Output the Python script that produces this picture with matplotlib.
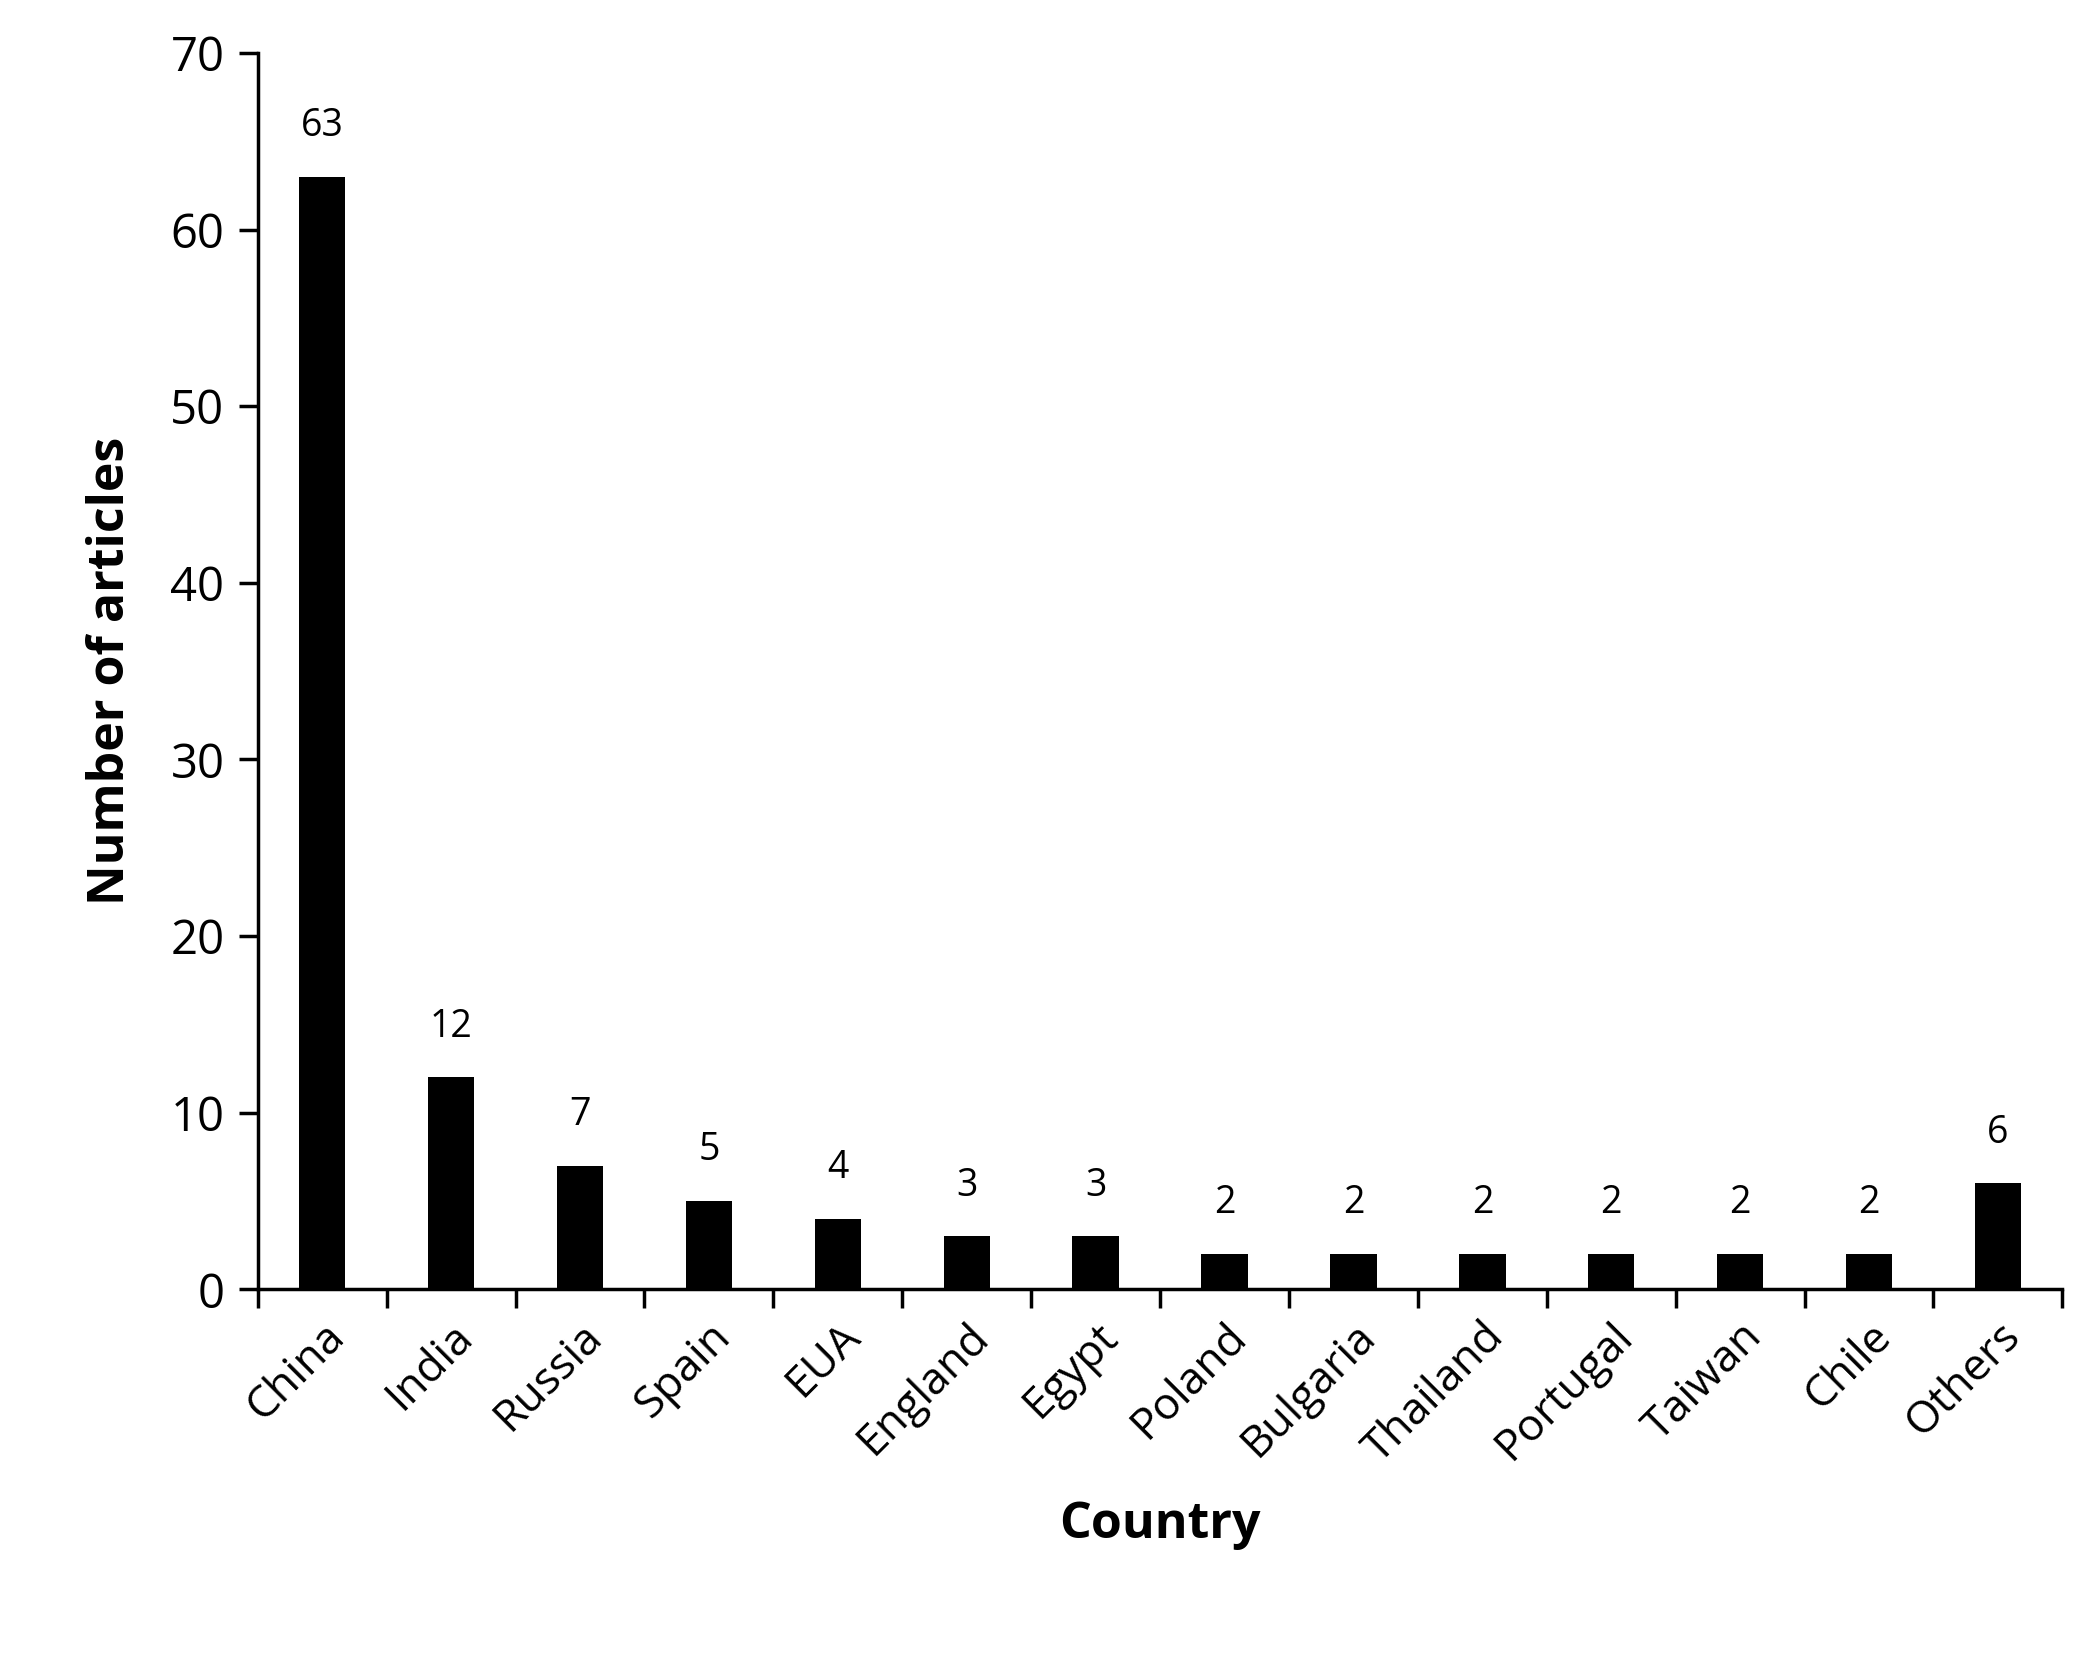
import matplotlib.pyplot as plt
import numpy as np

countries = ['China', 'India', 'Russia', 'Spain', 'EUA', 'England', 'Egypt',
             'Poland', 'Bulgaria', 'Thailand', 'Portugal', 'Taiwan', 'Chile', 'Others']
articles = [63, 12, 7, 5, 4, 3, 3, 2, 2, 2, 2, 2, 2, 6]

plt.rcParams['font.family'] = ['Open Sans', 'DejaVu Sans']

fig = plt.figure(figsize=(20.79, 16.53), dpi=100)
ax = fig.add_axes([0.124, 0.22, 0.868, 0.748])

x = np.arange(len(countries))
ax.bar(x, articles, width=0.36, color='black')
for xi, v in zip(x, articles):
    ax.text(xi, v + 1.8, str(v), ha='center', va='bottom', fontsize=27)

ax.set_xlim(-0.5, len(countries) - 0.5)
ax.set_ylim(0, 70)
ax.set_yticks(range(0, 71, 10))
ax.set_xticks(x)
ax.set_xticklabels(countries, rotation=45, ha='right', rotation_mode='anchor')
ax.set_xticks(np.arange(-0.5, len(countries), 1), minor=True)
ax.tick_params(axis='x', which='major', length=0, labelsize=32, pad=18)
ax.tick_params(axis='x', which='minor', length=14, width=2.5, direction='out')
ax.tick_params(axis='y', length=14, width=2.5, labelsize=34, pad=10)

for s in ['top', 'right']:
    ax.spines[s].set_visible(False)
for s in ['left', 'bottom']:
    ax.spines[s].set_linewidth(2.5)

ax.set_xlabel('Country', fontsize=36, fontweight='bold', labelpad=20)
ax.set_ylabel('Number of articles', fontsize=36, fontweight='bold', labelpad=25)

fig.savefig('out.png', dpi=100)
